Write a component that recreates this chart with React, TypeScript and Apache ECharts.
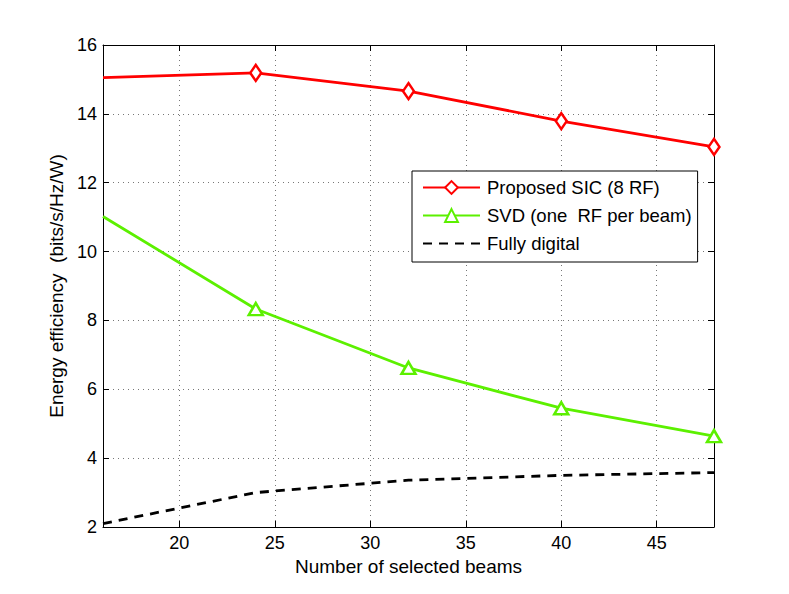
import React, { useEffect, useRef } from "react";
import * as echarts from "echarts";

const beams = [16, 24, 32, 40, 48];
const sicValues = [15.05, 15.19, 14.66, 13.79, 13.04];
const svdValues = [11.02, 8.33, 6.62, 5.45, 4.64];
const digitalValues = [2.1, 3.0, 3.36, 3.5, 3.58];
const xTicks = [20, 25, 30, 35, 40, 45];
const seriesNames = ["Proposed SIC (8 RF)", "SVD (one  RF per beam)", "Fully digital"];

const FONT = "Liberation Sans, Arial, Helvetica, sans-serif";

function pts(vals: number[], noFirstSymbol: boolean) {
  return beams.map((b, i) =>
    noFirstSymbol && i === 0 ? { value: [b, vals[i]], symbol: "none" } : { value: [b, vals[i]] }
  );
}

export default function App() {
  const ref = useRef<HTMLDivElement>(null);
  useEffect(() => {
    document.body.style.margin = "0";
    const chart = echarts.init(ref.current!, null, { renderer: "svg" });
    const grid = { left: 103, top: 45, width: 611, height: 482 };
    const splitLine = { show: true, lineStyle: { color: "#777", type: [1, 4], width: 1 } };
    const tickStyle = { show: true, inside: true, length: 6, lineStyle: { color: "#000", width: 1 } };
    chart.setOption({
      animation: false,
      backgroundColor: "#fff",
      grid,
      legend: {
        orient: "vertical",
        left: 412,
        top: 171,
        padding: [7, 6, 9, 10],
        itemWidth: 57,
        itemHeight: 16,
        itemGap: 9,
        backgroundColor: "#fff",
        borderColor: "#000",
        borderWidth: 1,
        borderRadius: 0,
        textStyle: { fontFamily: FONT, fontSize: 18.5, color: "#000", padding: [0, 0, 0, 2] },
        data: seriesNames,
      },
      xAxis: [
        {
          type: "value",
          min: 16,
          max: 48,
          position: "bottom",
          name: "Number of selected beams",
          nameLocation: "middle",
          nameGap: 25,
          nameTextStyle: { fontFamily: FONT, fontSize: 19, color: "#000" },
          axisLine: { show: true, onZero: false, lineStyle: { color: "#000", width: 1 } },
          axisTick: { ...tickStyle, customValues: xTicks },
          axisLabel: { customValues: xTicks, fontFamily: FONT, fontSize: 18, color: "#000", margin: 7 },
          splitLine,
        },
        {
          type: "value",
          min: 16,
          max: 48,
          position: "top",
          axisLine: { show: true, onZero: false, lineStyle: { color: "#000", width: 1 } },
          axisTick: { ...tickStyle, customValues: xTicks },
          axisLabel: { show: false, customValues: xTicks },
          splitLine: { show: false },
        },
      ],
      yAxis: [
        {
          type: "value",
          min: 2,
          max: 16,
          interval: 2,
          position: "left",
          name: "Energy efficiency  (bits/s/Hz/W)",
          nameLocation: "middle",
          nameGap: 35,
          nameTextStyle: { fontFamily: FONT, fontSize: 19, color: "#000" },
          axisLine: { show: true, onZero: false, lineStyle: { color: "#000", width: 1 } },
          axisTick: tickStyle,
          axisLabel: { fontFamily: FONT, fontSize: 18, color: "#000", margin: 6 },
          splitLine,
        },
        {
          type: "value",
          min: 2,
          max: 16,
          interval: 2,
          position: "right",
          axisLine: { show: true, onZero: false, lineStyle: { color: "#000", width: 1 } },
          axisTick: tickStyle,
          axisLabel: { show: false },
          splitLine: { show: false },
        },
      ],
      series: [
        {
          name: seriesNames[0],
          type: "line",
          data: pts(sicValues, true),
          symbol: "diamond",
          symbolSize: [11, 16],
          itemStyle: { color: "#fff", borderColor: "#ff0000", borderWidth: 2.5 },
          lineStyle: { color: "#ff0000", width: 2.8 },
          z: 3,
        },
        {
          name: seriesNames[1],
          type: "line",
          data: pts(svdValues, true),
          symbol: "triangle",
          symbolSize: [14, 12],
          itemStyle: { color: "#fff", borderColor: "#5cf000", borderWidth: 2.5 },
          lineStyle: { color: "#5cf000", width: 2.8 },
          z: 3,
        },
        {
          name: seriesNames[2],
          type: "line",
          data: pts(digitalValues, false),
          symbol: "circle",
          showSymbol: false,
          itemStyle: { color: "rgba(0,0,0,0)", borderWidth: 0 },
          lineStyle: { color: "#000", width: 2.8, type: [9, 7] },
          z: 2,
        },
      ],
    });
    return () => chart.dispose();
  }, []);
  return <div ref={ref} style={{ position: "fixed", left: 0, top: 0, width: 789, height: 594 }} />;
}
